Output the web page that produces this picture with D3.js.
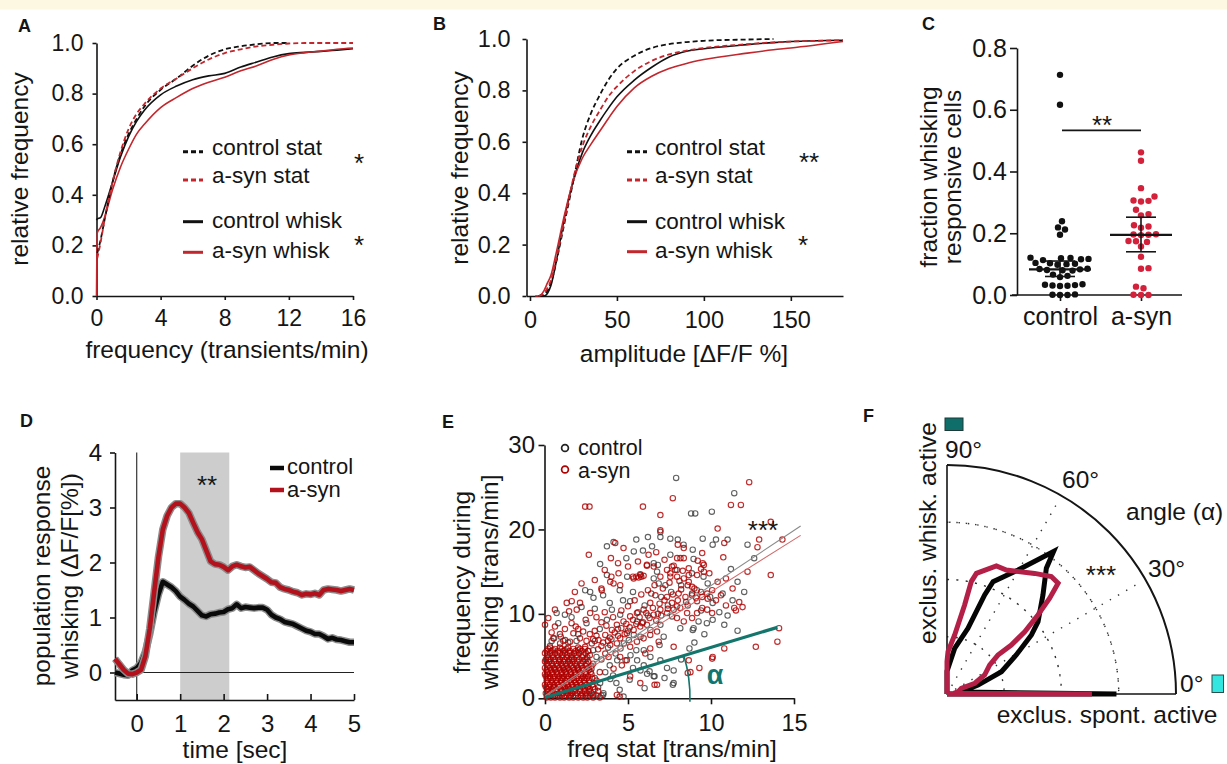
<!DOCTYPE html>
<html><head><meta charset="utf-8">
<script src="https://cdn.jsdelivr.net/npm/d3@7"></script>
<style>body{margin:0;background:#fff}svg{display:block}</style>
</head><body><svg id="fig" width="1227" height="764"></svg>
<script>
// ================= DATA =================
// Panel A: cumulative distributions of transient frequency
const freqX        = [0, 0.05, 0.25, 0.5, 1, 1.5, 2, 2.5, 3, 4, 5, 6, 7, 8, 9, 10, 11, 12, 13, 14, 15, 16];
const freqCtrlStat = [null, 0.17, 0.22, 0.30, 0.45, 0.56, 0.64, 0.70, 0.75, 0.815, 0.86, 0.91, 0.95, 0.975, 0.987, 0.995, 1.0, 1.0, null, null, null, null];
const freqAsynStat = [null, 0.15, 0.21, 0.30, 0.45, 0.57, 0.66, 0.72, 0.76, 0.82, 0.86, 0.90, 0.935, 0.96, 0.975, 0.987, 0.993, 0.998, 1.0, 1.0, 1.0, 1.0];
const freqCtrlWhisk= [0.30, 0.305, 0.31, 0.35, 0.45, 0.55, 0.63, 0.69, 0.735, 0.795, 0.83, 0.855, 0.87, 0.88, 0.905, 0.925, 0.945, 0.958, 0.963, 0.967, 0.972, 0.977];
const freqAsynWhisk= [0.0, 0.25, 0.27, 0.31, 0.42, 0.51, 0.58, 0.64, 0.68, 0.745, 0.785, 0.82, 0.845, 0.865, 0.89, 0.91, 0.935, 0.953, 0.962, 0.968, 0.975, 0.98];
const freqTicks = [0, 4, 8, 12, 16];
const relTicks  = [0, 0.2, 0.4, 0.6, 0.8, 1.0];

// Panel B: cumulative distributions of amplitude
const ampX         = [3, 5, 8, 10, 12, 15, 20, 25, 30, 35, 40, 45, 50, 60, 70, 80, 90, 100, 125, 140, 150, 180];
const ampCtrlStat  = [null, 0, 0.005, 0.02, 0.05, 0.13, 0.29, 0.45, 0.61, 0.71, 0.78, 0.84, 0.885, 0.935, 0.965, 0.98, 0.988, 0.993, 0.998, 1.0, null, null];
const ampAsynStat  = [null, 0, 0.01, 0.03, 0.06, 0.14, 0.30, 0.46, 0.58, 0.66, 0.72, 0.775, 0.815, 0.875, 0.915, 0.94, 0.955, 0.965, 0.98, 0.987, 0.99, 0.995];
const ampCtrlWhisk = [null, 0, 0.0, 0.01, 0.04, 0.13, 0.31, 0.45, 0.555, 0.625, 0.68, 0.73, 0.775, 0.84, 0.89, 0.93, 0.952, 0.962, 0.978, 0.986, 0.99, 0.995];
const ampAsynWhisk = [0, 0, 0.02, 0.05, 0.08, 0.165, 0.32, 0.45, 0.535, 0.59, 0.64, 0.69, 0.737, 0.81, 0.855, 0.885, 0.905, 0.92, 0.945, 0.958, 0.965, 0.99];
const ampTicks = [0, 50, 100, 150];

// Panel C: fraction of whisking responsive cells
const groupsC = ['control', 'a-syn'];
const fracControl = [0.713, 0.616, 0.239, 0.219, 0.212, 0.195, 0.12, 0.119, 0.117, 0.116, 0.121, 0.113,
  0.104, 0.101, 0.1, 0.098, 0.103, 0.085, 0.083, 0.081, 0.08, 0.079, 0.084, 0.066, 0.062, 0.058,
  0.035, 0.033, 0.031, 0.029, 0.03, 0.032, 0.0, 0.0, 0.001, 0.002];
const fracAsyn = [0.462, 0.435, 0.346, 0.319, 0.306, 0.305, 0.303, 0.276, 0.262, 0.258, 0.222, 0.218, 0.226,
  0.196, 0.195, 0.197, 0.194, 0.174, 0.172, 0.175, 0.157, 0.124, 0.087, 0.085, 0.027, 0.022, 0.0, 0.0, 0.001];
const fracCenter = [0.083, 0.195];
const fracErrLo  = [0.060, 0.140];
const fracErrHi  = [0.110, 0.252];
const fracTicks  = [0, 0.2, 0.4, 0.6, 0.8];
const sigBarC = 0.533;

// Panel D: population response
const timeD = [-0.5,-0.4,-0.3,-0.2,-0.1,0.0,0.1,0.2,0.3,0.4,0.5,0.6,0.7,0.8,0.9,1.0,1.1,1.2,1.3,1.4,1.5,1.6,1.7,1.8,1.9,2.0,
  2.1,2.2,2.3,2.4,2.5,2.6,2.7,2.8,2.9,3.0,3.1,3.2,3.3,3.4,3.5,3.6,3.7,3.8,3.9,4.0,4.1,4.2,4.3,4.4,4.5,4.6,4.7,4.8,4.9,5.0];
const respAsyn = [0.25,0.15,0.05,-0.02,-0.03,0.0,0.05,0.3,0.8,1.45,2.1,2.6,2.85,3.0,3.07,3.07,3.0,2.9,2.72,2.55,2.42,2.22,2.02,1.97,1.96,1.92,
  1.86,1.93,1.96,1.93,1.91,1.92,1.86,1.8,1.75,1.7,1.64,1.63,1.55,1.52,1.5,1.47,1.45,1.41,1.43,1.42,1.44,1.41,1.5,1.52,1.51,1.5,1.48,1.5,1.52,1.5];
const respCtrl = [0.0,-0.02,-0.04,-0.05,0.04,0.08,0.18,0.38,0.7,1.1,1.42,1.65,1.6,1.55,1.48,1.38,1.32,1.25,1.2,1.12,1.04,1.02,1.06,1.07,1.09,1.1,
  1.15,1.17,1.24,1.17,1.19,1.18,1.17,1.18,1.18,1.14,1.05,1.0,0.97,0.92,0.9,0.88,0.84,0.8,0.76,0.74,0.7,0.7,0.66,0.61,0.63,0.6,0.59,0.57,0.55,0.55];
const timeTicks = [0, 1, 2, 3, 4, 5];
const respTicks = [0, 1, 2, 3, 4];
const shadeD = [1.0, 2.13];

// Panel E: frequency during whisking vs stationary
const scatterCtrl = [
 [7.9,26.1],[11.4,24.3],[8.8,21.9],[9.05,21.9],[10.05,22.1],[6.95,19.7],[6.95,19.1],[12.2,18.2],[10.1,18.2],[10.3,18.8],
 [11.0,18.8],[9.5,18.9],[8.9,17.6],[8.35,18.2],[8.0,18.8],[7.55,18.9],[6.2,19.1],[5.5,18.8],[4.9,16.6],[4.13,18.5],
 [3.73,18.0],[3.32,15.9],[5.9,17.5],[6.45,18.0],[5.35,17.4],[7.55,17.0],[6.55,16.0],[8.95,16.5],[11.2,15.3],
 [3.73,14.6],[4.95,14.4],[5.75,14.6],[6.75,15.0],[7.95,15.2],[8.85,14.8],[9.55,14.4],[6.8,15.8],[6.55,14.2],[6.85,13.6],[7.25,13.4],
 [2.42,12.8],[2.72,12.6],[2.92,11.9],[4.5,12.8],[3.9,11.3],[10.7,12.4],[11.3,11.6],[10.1,11.3],[8.85,12.2],[9.15,12.8],[9.95,12.0],
 [0.7,10.1],[1.2,9.9],[2.5,8.9],[3.73,9.3],[4.03,10.5],[4.53,9.9],[5.13,11.5],[5.55,9.1],[5.85,8.9],[6.35,8.1],[6.95,8.7],
 [7.15,7.3],[7.65,9.7],[8.15,8.3],[8.95,8.3],[9.25,9.1],[9.75,8.9],[10.8,8.7],[10.1,9.3],[8.9,8.1],[0.8,8.9],
 [5.35,7.5],[5.75,7.3],[5.05,6.9],[4.75,6.5],[4.55,5.9],[4.25,5.3],[4.35,4.5],[4.85,4.5],[5.15,5.1],[5.55,4.5],[5.95,3.9],
 [5.75,3.3],[6.15,2.9],[6.55,2.6],[7.35,3.6],[7.75,3.3],[7.75,1.8],[6.95,4.5],[6.35,4.9],[5.95,5.7],[6.9,6.3],[8.7,5.9],[5.5,5.7],
 [3.63,3.1],[3.93,2.3],[3.32,1.8],[3.52,0.6],[4.73,0.2],[2.92,0.4],[7.7,1.6],[6.6,2.6],[6.3,3.2],[5.1,2.2],[4.5,1.0],[3.5,0.4],[4.3,1.8],
 [0.55,7.1],[0.95,7.3],[1.4,6.6],[0.3,6.2],
 [4.0,7.0],[4.4,8.2],[5.0,8.0],[5.6,10.2],[6.0,11.0],[6.4,12.4],[7.0,12.0],[7.6,12.6],[8.2,13.4],[8.6,11.0],[9.4,10.4],[9.8,13.6],
 [10.5,10.2],[11.0,9.8],[7.4,11.0],[6.8,10.0],[6.2,9.8],[5.3,12.6],[4.7,11.6],[3.5,12.2],[3.0,10.6],[2.2,10.8],[1.6,9.6],[2.0,7.6],
 [3.3,8.2],[3.8,6.0],[2.6,5.6],[3.1,4.9],[3.9,3.9],[4.1,2.7],[5.3,3.6],[6.0,1.2],[7.2,2.4],[8.2,4.6],[9.0,6.6],[9.6,7.6],[11.6,8.0],
 [12.0,12.6],[11.6,13.8],[12.6,16.6],
 [0.2,0.3],[0.8,0.3],[1.5,0.3],[2.2,0.3],[2.9,0.3],[3.4,0.3],[0.5,1.3],[1.2,1.3],[1.9,1.3],[2.6,1.3],[3.2,1.3],
 [0.3,2.4],[1.0,2.4],[1.7,2.4],[2.4,2.4],[3.0,2.4],[0.6,3.5],[1.3,3.5],[2.0,3.5],[2.8,3.5],[0.2,4.6],[0.9,4.6],[1.6,4.6],
 [2.5,4.6],[3.4,4.6],[0.5,5.7],[1.2,5.7],[2.0,5.7],[2.9,5.7],[0.4,6.8],[1.1,6.8],[1.9,6.8],[3.0,6.8]
];
const scatterAsyn = [
 [12.3,25.6],[7.7,23.7],[11.2,22.9],[11.8,22.9],[5.9,22.7],[2.42,22.7],[2.68,22.7],[6.95,21.7],[10.4,20.1],[13.6,20.9],
 [14.3,18.8],[12.9,18.8],[12.8,17.9],[10.8,18.4],[6.95,19.9],[2.64,17.0],[3.97,16.6],[4.23,18.4],[4.73,17.8],[6.24,17.0],
 [8.0,18.2],[8.36,17.8],[8.36,16.6],[7.96,16.6],[8.16,16.6],[9.47,17.2],[10.74,16.7],[9.5,16.0],[9.4,15.3],[9.57,15.0],
 [13.6,14.6],[6.14,15.7],[7.75,15.7],[8.66,15.4],[5.3,14.4],[5.5,14.4],[5.8,14.4],[6.95,14.4],[7.55,14.4],[7.96,14.4],[8.66,14.6],
 [12.2,15.0],[11.3,13.0],[11.7,11.4],[11.4,10.7],[14.1,8.3],[14.0,6.7],[12.7,6.1],[10.8,5.9],[10.1,4.9],[9.3,3.6],[8.6,3.0],
 [6.6,1.6],[4.5,0.2],[10.07,4.7],[8.66,4.5],[7.75,6.1],[8.76,3.1],
 [0.0,8.7],[0.6,8.5],[1.31,11.3],[1.61,11.5],[2.11,11.3],[2.72,10.1],[0.6,10.5],[1.91,10.5],[3.42,12.8],[3.93,13.8],[4.13,13.6],
 [4.43,14.8],[4.53,13.4],[5.34,14.2],[5.64,14.3],[5.94,14.5],[5.74,14.7],[6.14,15.8],[6.55,15.6],[7.35,15.2],[7.55,14.8],
 [7.85,15.2],[7.65,15.6],[8.36,14.2],[8.66,13.8],[8.86,13.2],[9.16,14.6],[9.57,15.8],[8.05,12.4],[8.46,12.0],[8.86,12.4],
 [9.16,11.5],[9.47,12.0],[9.77,12.4],[10.07,12.8],[7.35,12.0],[7.65,11.3],[7.95,10.9],
 [6.65,12.2],[6.34,11.3],[5.94,10.5],[5.54,10.1],[5.13,9.7],[4.73,9.1],[4.33,8.7],[4.03,8.1],[3.63,7.5],[3.22,6.9],[2.82,6.5],[2.42,6.1],
 [6.55,9.9],[6.95,10.5],[7.35,10.1],[7.75,10.5],[8.15,10.7],[8.56,10.1],[7.95,9.5],[8.36,9.1],[8.86,9.5],[9.16,10.1],[9.47,10.7],
 [9.77,10.5],[10.07,10.1],[5.74,8.5],[6.14,8.7],[5.34,8.1],[4.93,7.7],[4.53,7.1],[4.33,6.5],[3.93,6.3],
 [1.71,7.7],[2.11,7.1],[1.51,6.7],[1.21,6.9],[0.91,6.5],[0.5,7.1],[5.13,6.1],[5.54,6.7],[5.94,7.1],[6.34,7.5],[6.75,7.9],
 [6.85,6.7],[6.34,5.9],[6.04,5.3],[4.53,4.9],[4.93,4.5],[5.74,1.8],[5.13,2.6],[6.75,1.6],[4.33,0.4],[4.13,3.5],[4.63,3.9],
 [3.63,5.3],[3.83,4.9],[3.4,13.0],[4.0,14.4],[1.85,8.5],[2.45,9.3],[1.45,10.3],[3.0,8.0],[3.4,9.0],[2.7,7.6],[3.6,10.2],
 [3.2,5.8],[3.5,6.6],[3.9,7.2],[4.2,7.8],[4.6,8.3],[4.9,8.8],[5.3,9.3],[5.7,9.6],[6.1,10.1],[6.5,10.7],[6.9,11.2],[7.2,11.6],
 [7.7,12.3],[8.2,12.9],[8.6,13.4],[9.0,13.0],[9.4,12.6],[9.8,11.8],[10.3,11.6],[10.6,12.2],[10.9,11.0],[11.5,10.4],[11.9,10.8],
 [9.1,11.9],[8.5,11.4],[8.0,11.6],[7.4,10.6],[7.0,9.8],[6.7,9.2],[6.3,9.5],[5.9,9.0],[5.5,8.8],[5.1,8.4],[4.8,7.6],[4.4,7.4],
 [3.8,6.8],[3.4,6.2],[3.1,7.4],[2.9,7.0],[2.5,6.8],[2.3,7.9],[2.0,8.2],[1.6,8.9],[1.2,8.2],[0.9,7.6],[0.4,7.8],[0.2,9.5],
 [3.1,9.6],[3.7,8.6],[4.1,9.6],[4.6,10.4],[5.0,10.9],[5.4,11.6],[5.8,12.3],[6.2,12.8],[6.6,13.4],[7.1,13.0],[7.5,13.7],
 [8.1,13.9],[8.3,15.1],[9.2,16.3],[9.9,14.8],[10.4,13.8],[10.9,14.2],[7.2,16.4],[6.7,17.3],[5.6,16.2],[5.0,15.6],[4.4,16.0],
 [3.6,15.2],[3.0,14.0],[2.2,13.6],[1.8,12.6]
];
// dense block of a-syn points at low frequencies: [y, [x values]]
const asynBlockRows = [
 [0.1, [0.1,0.35,0.6,0.9,1.15,1.45,1.7,2.0,2.3,2.55,2.9,3.3]],
 [0.35,[0.2,0.5,0.75,1.0,1.3,1.55,1.85,2.15,2.45,2.7,3.1]],
 [0.6, [0.05,0.3,0.55,0.85,1.1,1.4,1.65,1.95,2.25,2.5,2.8]],
 [0.85,[0.2,0.45,0.7,1.0,1.25,1.55,1.8,2.1,2.4,2.65,3.2]],
 [1.1, [0.15,0.4,0.7,0.95,1.25,1.5,1.8,2.1,2.4,2.7,3.0]],
 [1.35,[0.05,0.25,0.55,0.85,1.1,1.4,1.65,1.95,2.25,2.55,2.9]],
 [1.6, [0.0,0.3,0.55,0.8,1.1,1.35,1.65,1.9,2.2,2.5,2.85]],
 [1.85,[0.15,0.45,0.7,1.0,1.3,1.55,1.85,2.1,2.4,2.7]],
 [2.1, [0.1,0.4,0.65,0.95,1.2,1.5,1.75,2.05,2.35,2.65,3.1]],
 [2.35,[0.2,0.5,0.8,1.05,1.35,1.6,1.9,2.2,2.5,2.85]],
 [2.6, [0.05,0.3,0.6,0.85,1.15,1.4,1.7,2.0,2.3,2.6]],
 [2.85,[0.0,0.2,0.45,0.75,1.0,1.3,1.55,1.85,2.15,2.45,2.8]],
 [3.1, [0.15,0.45,0.7,1.0,1.25,1.55,1.8,2.1,2.45,2.75,3.3]],
 [3.35,[0.1,0.35,0.6,0.9,1.15,1.45,1.75,2.0,2.3,2.65]],
 [3.6, [0.0,0.3,0.55,0.85,1.1,1.4,1.7,1.95,2.25,2.6]],
 [3.85,[0.2,0.45,0.75,1.05,1.3,1.6,1.9,2.2,2.45,2.8]],
 [4.1, [0.1,0.4,0.7,0.95,1.25,1.5,1.8,2.15,2.5,2.9]],
 [4.35,[0.0,0.25,0.55,0.85,1.1,1.4,1.65,1.95,2.3,2.6]],
 [4.6, [0.05,0.35,0.6,0.9,1.2,1.45,1.75,2.05,2.4]],
 [4.85,[0.2,0.5,0.8,1.05,1.3,1.6,1.95,2.25,2.55]],
 [5.1, [0.15,0.45,0.75,1.05,1.35,1.6,1.9,2.3,2.7]],
 [5.35,[0.0,0.3,0.6,0.9,1.2,1.5,1.75,2.05,2.45]],
 [5.6, [0.1,0.4,0.8,1.1,1.5,1.85,2.2,2.6]],
 [5.85,[0.2,0.6,1.0,1.3,1.7,2.1,2.4]],
 [6.0, [0.3,0.9,1.4,2.0]]
];
const regCtrl = [[0, 0.3], [15.4, 20.4]];
const regAsyn = [[0, 0.2], [15.4, 19.3]];
const regAlpha = [[0, 0.1], [14, 8.4]];
const statTicks = [0, 5, 10, 15];
const whiskTicks = [0, 10, 20, 30];

// Panel F: polar histogram of angle alpha  [angle deg, normalised radius]
const polarCtrl = [[0,0],[0,0.74],[8,0.06],[16,0.141],[22.3,0.257],[29.4,0.347],[35,0.45],[38.5,0.508],[45.9,0.602],
  [51.7,0.70],[53.2,0.777],[60.2,0.624],[67.7,0.53],[69.2,0.463],[72.3,0.301],[80.5,0.202],[90,0.1],[90,0]];
const polarAsyn = [[0,0],[0,0.633],[6,0.03],[12,0.05],[21.6,0.067],[21.1,0.13],[26.8,0.184],[34.2,0.225],[37.4,0.28],
  [37.3,0.353],[38.7,0.435],[41,0.526],[43,0.613],[44.9,0.685],[48.4,0.686],[54,0.651],[64.4,0.6],[68.9,0.599],
  [76.3,0.542],[77.8,0.502],[78.8,0.396],[82.6,0.26],[88.6,0.185],[90,0.141],[90,0]];
const polarRings = [0.25, 0.5, 0.75];
const polarSpokes = [30, 60];
const polarLabels = ['90°', '60°', '30°', '0°'];

// ================= DRAWING =================
const FONT = "'Liberation Sans', Arial, Helvetica, sans-serif";
const INK = '#151515';
const svg = d3.select('#fig');
svg.append('rect').attr('width',1227).attr('height',764).attr('fill','#fff');
svg.append('rect').attr('width',1227).attr('height',9.5).attr('fill','#fdf8e2');

function txt(g, x, y, s, o = {}) {
  const t = g.append('text').attr('x', x).attr('y', y).text(s)
    .attr('font-family', FONT).attr('font-size', o.fs || 24)
    .attr('fill', o.fill || INK).attr('text-anchor', o.anchor || 'start');
  if (o.weight) t.attr('font-weight', o.weight);
  if (o.rot) t.attr('transform', `rotate(-90,${x},${y})`);
  return t;
}
function styleAxis(g, fs) {
  g.attr('font-size', fs).attr('font-family', FONT);
  g.selectAll('path.domain').attr('stroke', INK).attr('stroke-width', 1.6);
  g.selectAll('.tick line').attr('stroke', INK).attr('stroke-width', 1.6);
  g.selectAll('.tick text').attr('fill', INK);
  return g;
}
const f1 = d3.format('.1f');
const fInt = d3.format('d');

// ---------- Panel A ----------
(function () {
  const g = svg.append('g');
  const x = d3.scaleLinear().domain([0, 16]).range([96.5, 353]);
  const y = d3.scaleLinear().domain([0, 1]).range([296, 43]);
  styleAxis(g.append('g').attr('transform', 'translate(0,296)')
    .call(d3.axisBottom(x).tickValues(freqTicks).tickSize(4).tickPadding(10).tickSizeOuter(0)), 23);
  styleAxis(g.append('g').attr('transform', 'translate(96.5,0)')
    .call(d3.axisLeft(y).tickValues(relTicks).tickFormat(f1).tickSize(4).tickPadding(9).tickSizeOuter(0)), 23);
  const line = d3.line().defined(d => d[1] != null).x(d => x(d[0])).y(d => y(d[1])).curve(d3.curveMonotoneX);
  const series = [
    [freqCtrlWhisk, '#111', null, 1.6], [freqAsynWhisk, '#c1272d', null, 1.6],
    [freqCtrlStat, '#111', '5,3', 1.8], [freqAsynStat, '#c1272d', '5,3', 1.8]];
  series.forEach(([vals, c, dash, w]) => {
    g.append('path').datum(freqX.map((v, i) => [v, vals[i]])).attr('d', line)
      .attr('fill', 'none').attr('stroke', c).attr('stroke-width', w).attr('stroke-dasharray', dash);
  });
  const leg = [['control stat', '#111', '5,3', 151.7, 155], ['a-syn stat', '#c1272d', '5,3', 180, 183.3],
               ['control whisk', '#111', null, 221.7, 228.3], ['a-syn whisk', '#c1272d', null, 252.3, 258.3]];
  leg.forEach(([s, c, dash, ly, ty]) => {
    g.append('line').attr('x1', 183).attr('x2', 203).attr('y1', ly).attr('y2', ly)
      .attr('stroke', c).attr('stroke-width', 3).attr('stroke-dasharray', dash ? '5,3' : null);
    txt(g, 212, ty, s, { fs: 22.5 });
  });
  txt(g, 359, 172, '*', { fs: 26, anchor: 'middle' });
  txt(g, 359, 254, '*', { fs: 26, anchor: 'middle' });
  txt(g, 227, 358, 'frequency (transients/min)', { fs: 24.5, anchor: 'middle' });
  txt(g, 28, 169, 'relative frequency', { fs: 24.5, anchor: 'middle', rot: true });
  txt(g, 18, 32, 'A', { fs: 18, weight: 'bold' });
})();

// ---------- Panel B ----------
(function () {
  const g = svg.append('g');
  const x = d3.scaleLinear().domain([-2, 180]).range([526.5, 843]);
  const y = d3.scaleLinear().domain([0, 1]).range([296, 39]);
  styleAxis(g.append('g').attr('transform', 'translate(0,296)')
    .call(d3.axisBottom(x).tickValues(ampTicks).tickSize(5).tickPadding(10).tickSizeOuter(0)), 23.5);
  styleAxis(g.append('g').attr('transform', 'translate(526.5,0)')
    .call(d3.axisLeft(y).tickValues(relTicks).tickFormat(f1).tickSize(4).tickPadding(12).tickSizeOuter(0)), 23.5);
  const line = d3.line().defined(d => d[1] != null).x(d => x(d[0])).y(d => y(d[1])).curve(d3.curveMonotoneX);
  const series = [
    [ampCtrlWhisk, '#111', null, 1.6], [ampAsynWhisk, '#c1272d', null, 1.6],
    [ampCtrlStat, '#111', '5,3', 1.8], [ampAsynStat, '#c1272d', '5,3', 1.8]];
  series.forEach(([vals, c, dash, w]) => {
    g.append('path').datum(ampX.map((v, i) => [v, vals[i]])).attr('d', line)
      .attr('fill', 'none').attr('stroke', c).attr('stroke-width', w).attr('stroke-dasharray', dash);
  });
  const leg = [['control stat', '#111', '5,3', 151.7, 155], ['a-syn stat', '#c1272d', '5,3', 180, 183.3],
               ['control whisk', '#111', null, 221.7, 229.3], ['a-syn whisk', '#c1272d', null, 251.7, 258.3]];
  leg.forEach(([s, c, dash, ly, ty]) => {
    g.append('line').attr('x1', 627).attr('x2', 647).attr('y1', ly).attr('y2', ly)
      .attr('stroke', c).attr('stroke-width', 3).attr('stroke-dasharray', dash ? '5,3' : null);
    txt(g, 655, ty, s, { fs: 22.5 });
  });
  txt(g, 809, 171, '**', { fs: 26, anchor: 'middle' });
  txt(g, 803, 254, '*', { fs: 26, anchor: 'middle' });
  txt(g, 684, 362, 'amplitude [\u0394F/F %]', { fs: 24.5, anchor: 'middle' });
  txt(g, 468, 168, 'relative frequency', { fs: 24.5, anchor: 'middle', rot: true });
  txt(g, 433, 30, 'B', { fs: 18, weight: 'bold' });
})();

// ---------- Panel C ----------
(function () {
  const g = svg.append('g');
  const y = d3.scaleLinear().domain([0, 0.8]).range([295, 48]);
  const x = d3.scalePoint().domain(groupsC).range([1060, 1141]);
  styleAxis(g.append('g').attr('transform', 'translate(1017,0)')
    .call(d3.axisLeft(y).tickValues(fracTicks).tickFormat(f1).tickSize(7).tickPadding(3).tickSizeOuter(0)), 25);
  g.append('line').attr('x1', 1012).attr('x2', 1182).attr('y1', 295).attr('y2', 295)
    .attr('stroke', INK).attr('stroke-width', 1.6);
  const xa = styleAxis(g.append('g').attr('transform', 'translate(0,295)')
    .call(d3.axisBottom(x).tickSize(6).tickPadding(6).tickSizeOuter(0)), 25);
  xa.select('path.domain').remove();

  function beeswarm(values, cx, minD) {
    const pts = values.map(v => ({ v, y: y(v) })).sort((a, b) => b.y - a.y);
    const placed = [];
    pts.forEach(p => {
      for (let k = 0; k < 400; k++) {
        const off = (k % 2 ? 1 : -1) * Math.ceil(k / 2) * 0.5;
        const px = cx + off;
        if (placed.every(q => (q.x - px) ** 2 + (q.y - p.y) ** 2 >= minD * minD)) { p.x = px; break; }
      }
      placed.push(p);
    });
    return placed;
  }
  [[fracControl, '#111'], [fracAsyn, '#d3213b']].forEach(([vals, c], i) => {
    const cx = x(groupsC[i]);
    g.append('g').selectAll('circle').data(beeswarm(vals, cx, 7.2)).join('circle')
      .attr('cx', d => d.x).attr('cy', d => d.y).attr('r', 3.2).attr('fill', c);
  });
  groupsC.forEach((grp, i) => {
    const cx = x(grp);
    g.append('line').attr('x1', cx - 31).attr('x2', cx + 31).attr('y1', y(fracCenter[i])).attr('y2', y(fracCenter[i]))
      .attr('stroke', INK).attr('stroke-width', 2.2);
    g.append('line').attr('x1', cx).attr('x2', cx).attr('y1', y(fracErrLo[i])).attr('y2', y(fracErrHi[i]))
      .attr('stroke', INK).attr('stroke-width', 1.6);
    [fracErrLo[i], fracErrHi[i]].forEach(v => g.append('line').attr('x1', cx - 15).attr('x2', cx + 15)
      .attr('y1', y(v)).attr('y2', y(v)).attr('stroke', INK).attr('stroke-width', 1.6));
  });
  g.append('line').attr('x1', x('control') + 2).attr('x2', x('a-syn')).attr('y1', y(sigBarC)).attr('y2', y(sigBarC))
    .attr('stroke', INK).attr('stroke-width', 1.8);
  txt(g, 1102, 134, '**', { fs: 26, anchor: 'middle' });
  txt(g, 937, 177, 'fraction whisking', { fs: 24.5, anchor: 'middle', rot: true });
  txt(g, 961, 177, 'responsive cells', { fs: 24.5, anchor: 'middle', rot: true });
  txt(g, 922, 30, 'C', { fs: 18, weight: 'bold' });
})();

// ---------- Panel D ----------
(function () {
  const g = svg.append('g');
  const x = d3.scaleLinear().domain([-0.5, 5]).range([115, 354]);
  const y = d3.scaleLinear().domain([-0.5, 4]).range([700, 452.5]);
  g.append('rect').attr('x', x(shadeD[0])).attr('width', x(shadeD[1]) - x(shadeD[0]))
    .attr('y', y(4)).attr('height', y(-0.5) - y(4)).attr('fill', '#cdcdcd');
  g.append('line').attr('x1', x(0)).attr('x2', x(0)).attr('y1', y(4)).attr('y2', y(-0.5)).attr('stroke', '#222').attr('stroke-width', 1.1);
  g.append('line').attr('x1', x(-0.5)).attr('x2', x(5)).attr('y1', y(0)).attr('y2', y(0)).attr('stroke', '#222').attr('stroke-width', 1.1);
  styleAxis(g.append('g').attr('transform', 'translate(0,700)')
    .call(d3.axisBottom(x).tickValues(timeTicks).tickFormat(fInt).tickSize(-6).tickPadding(15).tickSizeOuter(0)), 24);
  styleAxis(g.append('g').attr('transform', 'translate(115,0)')
    .call(d3.axisLeft(y).tickValues(respTicks).tickFormat(fInt).tickSize(5).tickPadding(8).tickSizeOuter(0)), 24);
  const line = d3.line().x((d, i) => x(timeD[i])).y(d => y(d)).curve(d3.curveLinear);
  [[respCtrl, '#0a0a0a'], [respAsyn, '#b3121c']].forEach(([vals, c]) => {
    g.append('path').datum(vals).attr('d', line).attr('fill', 'none').attr('stroke', '#8c8c8c')
      .attr('stroke-width', 7.5).attr('stroke-linejoin', 'round');
    g.append('path').datum(vals).attr('d', line).attr('fill', 'none').attr('stroke', c)
      .attr('stroke-width', 4.6).attr('stroke-linejoin', 'round');
  });
  [['control', '#0a0a0a', 468, 474], ['a-syn', '#b3121c', 490, 497]].forEach(([s, c, ly, ty]) => {
    g.append('line').attr('x1', 270).attr('x2', 284).attr('y1', ly).attr('y2', ly).attr('stroke', c).attr('stroke-width', 4.5);
    txt(g, 287, ty, s, { fs: 22 });
  });
  txt(g, 207, 494, '**', { fs: 26, anchor: 'middle' });
  txt(g, 235, 758, 'time [sec]', { fs: 24.5, anchor: 'middle' });
  txt(g, 49.5, 576, 'population response', { fs: 24.5, anchor: 'middle', rot: true });
  txt(g, 78, 576, 'whisking (\u0394F/F[%])', { fs: 24.5, anchor: 'middle', rot: true });
  txt(g, 20, 427, 'D', { fs: 18, weight: 'bold' });
})();

// ---------- Panel E ----------
(function () {
  const g = svg.append('g');
  const x = d3.scaleLinear().domain([0, 15]).range([545, 794]);
  const y = d3.scaleLinear().domain([0, 30]).range([698.3, 445]);
  styleAxis(g.append('g').attr('transform', 'translate(0,698.3)')
    .call(d3.axisBottom(x).tickValues(statTicks).tickSize(6).tickPadding(10).tickSizeOuter(0)), 23.5);
  styleAxis(g.append('g').attr('transform', 'translate(544.5,0)')
    .call(d3.axisLeft(y).tickValues(whiskTicks).tickSize(6).tickPadding(3.5).tickSizeOuter(0)), 24);
  const asynAll = scatterAsyn.concat(asynBlockRows.flatMap(([yy, xs]) => xs.map(xx => [xx, yy])));
  g.append('g').selectAll('circle').data(scatterCtrl).join('circle')
    .attr('cx', d => x(d[0])).attr('cy', d => y(d[1])).attr('r', 2.7)
    .attr('fill', 'none').attr('stroke', '#3a3a3a').attr('stroke-opacity', 0.8).attr('stroke-width', 1.1);
  g.append('g').selectAll('circle').data(asynAll).join('circle')
    .attr('cx', d => x(d[0])).attr('cy', d => y(d[1])).attr('r', 2.7)
    .attr('fill', 'none').attr('stroke', '#b00000').attr('stroke-opacity', 0.82).attr('stroke-width', 1.15);
  const line = d3.line().x(d => x(d[0])).y(d => y(d[1]));
  g.append('path').datum(regCtrl).attr('d', line).attr('stroke', '#8a8a8a').attr('stroke-width', 1.1).attr('fill', 'none');
  g.append('path').datum(regAsyn).attr('d', line).attr('stroke', '#d06a6a').attr('stroke-width', 1.1).attr('fill', 'none');
  g.append('path').datum(regAlpha).attr('d', line).attr('stroke', '#13756c').attr('stroke-width', 3.2).attr('fill', 'none');
  // angle arc
  const ox = x(regAlpha[0][0]), oy = y(regAlpha[0][1]);
  const ang = Math.atan2(y(regAlpha[1][1]) - oy, x(regAlpha[1][0]) - ox);
  const rr = 145;
  const p = d3.path();
  p.moveTo(ox + rr * Math.cos(ang), oy + rr * Math.sin(ang));
  p.arc(ox, oy, rr, ang, 0.03);
  g.append('path').attr('d', p.toString()).attr('fill', 'none').attr('stroke', '#13756c').attr('stroke-width', 1.6);
  txt(g, 715, 684, '\u03b1', { fs: 27, anchor: 'middle', fill: '#13756c', weight: 'bold' });
  txt(g, 763, 539, '***', { fs: 26, anchor: 'middle' });
  // legend
  [['control', '#222', 448, 454.5], ['a-syn', '#b00000', 469.5, 478]].forEach(([s, c, cy, ty]) => {
    g.append('circle').attr('cx', 565).attr('cy', cy).attr('r', 3.4).attr('fill', 'none').attr('stroke', c).attr('stroke-width', 1.7);
    txt(g, 578, ty, s, { fs: 21.5 });
  });
  txt(g, 672, 757, 'freq stat [trans/min]', { fs: 24.5, anchor: 'middle' });
  txt(g, 469.5, 582, 'frequency during', { fs: 24.5, anchor: 'middle', rot: true });
  txt(g, 498, 582, 'whisking [trans/min]', { fs: 24.5, anchor: 'middle', rot: true });
  txt(g, 442, 428, 'E', { fs: 18, weight: 'bold' });
})();

// ---------- Panel F ----------
(function () {
  const ox = 947, oy = 694;
  const r = d3.scaleLinear().domain([0, 1]).range([0, 229]);
  const g = svg.append('g').attr('transform', `translate(${ox},${oy})`);
  const rad = deg => (90 - deg) * Math.PI / 180;   // d3 radial angle from 12 o'clock
  const arcGen = d3.arc().startAngle(0).endAngle(Math.PI / 2);
  polarRings.forEach(v => g.append('path').attr('d', arcGen.innerRadius(r(v)).outerRadius(r(v))())
    .attr('fill', 'none').attr('stroke', '#333').attr('stroke-width', 1.4).attr('stroke-dasharray', '1.4,8'));
  const radial = d3.lineRadial().angle(d => rad(d[0])).radius(d => r(d[1]));
  polarSpokes.forEach(a => g.append('path').attr('d', radial([[a, 0], [a, 0.95]]))
    .attr('fill', 'none').attr('stroke', '#333').attr('stroke-width', 1.4).attr('stroke-dasharray', '1.4,8'));
  g.append('path').attr('d', arcGen.innerRadius(r(1)).outerRadius(r(1))()).attr('fill', 'none')
    .attr('stroke', INK).attr('stroke-width', 2);
  g.append('path').attr('d', radial([[0, 1], [0, 0], [90, 1]])).attr('fill', 'none').attr('stroke', INK).attr('stroke-width', 1.6);
  g.append('path').attr('d', radial(polarCtrl)).attr('fill', 'none').attr('stroke', '#050505')
    .attr('stroke-width', 5).attr('stroke-linejoin', 'miter');
  g.append('path').attr('d', radial(polarAsyn)).attr('fill', 'none').attr('stroke', '#b31f47')
    .attr('stroke-width', 5).attr('stroke-linejoin', 'miter');
  const f = svg.append('g');
  txt(f, 945, 458, polarLabels[0], { fs: 24.5 });
  txt(f, 1062, 488, polarLabels[1], { fs: 24.5 });
  txt(f, 1148, 577, polarLabels[2], { fs: 24.5 });
  txt(f, 1180, 692, polarLabels[3], { fs: 24.5 });
  txt(f, 1126, 520, 'angle (\u03b1)', { fs: 24.5 });
  txt(f, 1101, 584, '***', { fs: 26, anchor: 'middle' });
  txt(f, 1107, 723, 'exclus. spont. active', { fs: 24.5, anchor: 'middle' });
  txt(f, 935.5, 533, 'exclus. whisk. active', { fs: 24.5, anchor: 'middle', rot: true });
  f.append('rect').attr('x', 945).attr('y', 418).attr('width', 18).attr('height', 12.5)
    .attr('fill', '#0f6e69').attr('stroke', '#1d3a38').attr('stroke-width', 1);
  f.append('rect').attr('x', 1212).attr('y', 675).attr('width', 11.5).attr('height', 17.5)
    .attr('fill', '#33e6df').attr('stroke', '#2a4f4d').attr('stroke-width', 1);
  txt(f, 863, 422, 'F', { fs: 18, weight: 'bold' });
})();
</script>
</body></html>
